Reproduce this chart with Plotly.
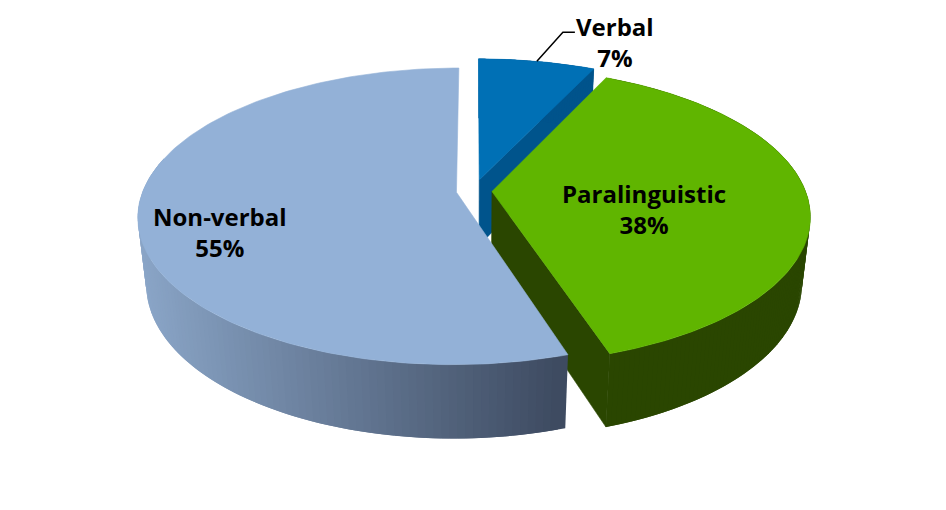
import numpy as np
import plotly.graph_objects as go

categories = ['Verbal', 'Paralinguistic', 'Non-verbal']
values = [7, 38, 55]
explode = [0.08, 0.058, 0.056]
top_colors = ['#0070B5', '#60B500', '#93B1D7']
wall_colors = ['#00548C', '#2A4600', '#3D4A60']
label_pos = [(615, 42), (644, 209), (220, 232)]

# fake 3d projection of the pie
X0, Y0 = 473.8, 191
A, B, D = 313.5, 144, 68
K, M = 0.162, 0.025
# page body has an 8px margin, axes are kept in window pixels
W, H = 946, 510
PAD = 8


def project(u, v, z):
    w = 1 - K * v + M * z
    return X0 + A * u / w, Y0 + (B * v + D * z) / w


def rim(theta, cx, cy, z):
    return project(cx + np.sin(theta), cy - np.cos(theta), z)


def poly(fig, x, y, color, width=0.6):
    fig.add_trace(go.Scatter(
        x=list(x) + [x[0]], y=list(y) + [y[0]],
        mode='lines', fill='toself', fillcolor=color,
        line=dict(color=color, width=width),
        hoverinfo='skip', showlegend=False,
    ))


def blend(t):
    c1, c2 = np.array([139, 166, 200]), np.array([61, 74, 96])
    r, g, b = (c1 + (c2 - c1) * t).astype(int)
    return f'rgb({r},{g},{b})'


fig = go.Figure()

edges = np.cumsum([0] + values) / sum(values) * 2 * np.pi
slices = []
for i in range(len(values)):
    mid = (edges[i] + edges[i + 1]) / 2
    slices.append(dict(a=edges[i], b=edges[i + 1], mid=mid,
                       cx=explode[i] * np.sin(mid), cy=-explode[i] * np.cos(mid)))

# verbal, then paralinguistic, non-verbal goes over both
for i in range(len(values)):
    s = slices[i]
    cx, cy = s['cx'], s['cy']
    th = np.linspace(s['a'], s['b'], 160)
    ax0, ay0 = project(cx, cy, 0)
    ax1, ay1 = project(cx, cy, 1)

    if categories[i] == 'Non-verbal':
        # only the part of the wall that can be seen
        vis = th[th < s['a'] + (s['b'] - s['a']) * 0.62]
        xs, _ = rim(th, cx, cy, 0)
        lo, hi = xs.min(), xs[0]
    else:
        vis = th
        # cut face on the clockwise end
        ex0, ey0 = rim(s['b'], cx, cy, 0)
        ex1, ey1 = rim(s['b'], cx, cy, 1)
        poly(fig, [ax0, ex0, ex1, ax1], [ay0, ey0, ey1, ay1], wall_colors[i])

    # outer wall as quads, one big polygon breaks where the rims cross
    for j in range(len(vis) - 2, -1, -1):
        pair = vis[j:j + 3]
        x0, y0 = rim(pair, cx, cy, 0)
        x1, y1 = rim(pair[::-1], cx, cy, 1)
        if categories[i] == 'Non-verbal':
            t = np.clip((x0.mean() - lo) / (hi - lo), 0, 1)
            color = blend(t)
        else:
            color = wall_colors[i]
        poly(fig, list(x0) + list(x1), list(y0) + list(y1), color, width=0)

    x0, y0 = rim(th, cx, cy, 0)
    poly(fig, [ax0] + list(x0), [ay0] + list(y0), top_colors[i])

# leader line of the first label
s = slices[0]
lx, ly = rim(s['mid'], s['cx'], s['cy'], 0)
fig.add_trace(go.Scatter(
    x=[lx, lx + 26, lx + 38], y=[ly, ly - 29, ly - 29],
    mode='lines', line=dict(color='black', width=1.5),
    hoverinfo='skip', showlegend=False,
))

for name, val, (tx, ty) in zip(categories, values, label_pos):
    fig.add_annotation(
        x=tx, y=ty, text=f'<b>{name}<br>{val}%</b>', showarrow=False,
        font=dict(family='Open Sans', size=24, color='black'), align='center',
    )

fig.update_layout(
    width=W - 2 * PAD, height=H - 2 * PAD,
    margin=dict(l=0, r=0, t=0, b=0),
    plot_bgcolor='white', paper_bgcolor='white',
    xaxis=dict(range=[PAD, W - PAD], visible=False, fixedrange=True),
    yaxis=dict(range=[H - PAD, PAD], visible=False, fixedrange=True),
)

fig.write_html("out.html")
